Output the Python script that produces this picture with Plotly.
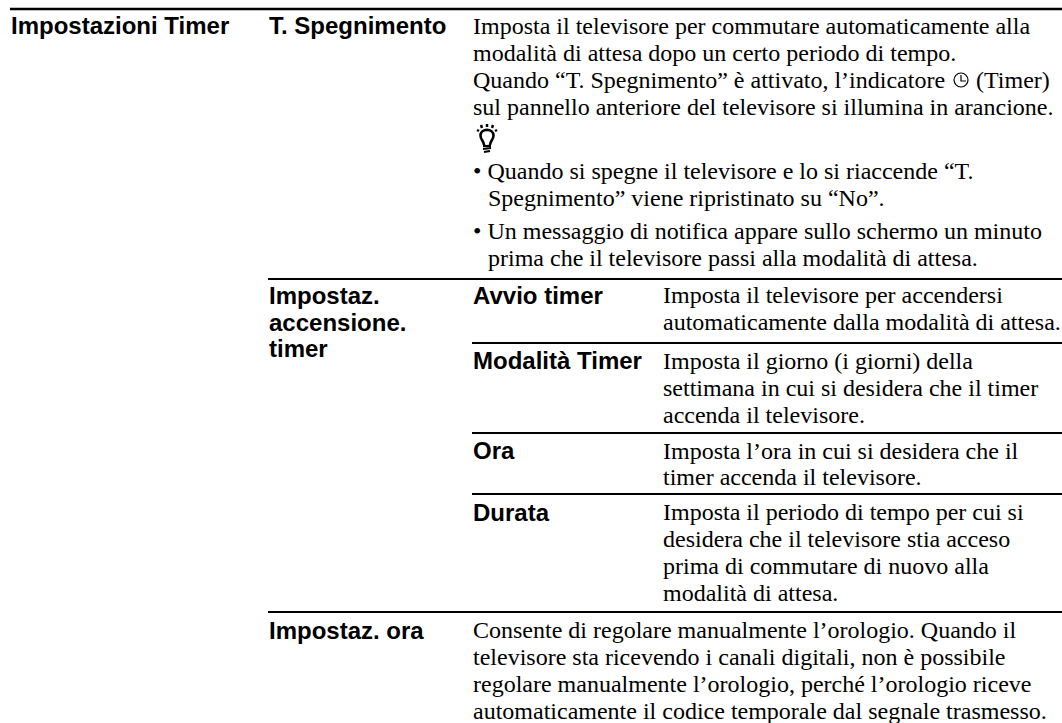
import plotly.graph_objects as go

W, H = 1062, 723
SANS = "Liberation Sans"
SERIF = "Liberation Serif"
SIZE = 24

bold_labels = [
    (10, 25, "Impostazioni Timer"),
    (268, 25, "T. Spegnimento"),
    (268, 295, "Impostaz."),
    (268, 322, "accensione."),
    (268, 348, "timer"),
    (472, 295, "Avvio timer"),
    (472, 360, "Modalità Timer"),
    (472, 450, "Ora"),
    (472, 512, "Durata"),
    (268, 630, "Impostaz. ora"),
]
body_lines = [
    (472, 26, "Imposta il televisore per commutare automaticamente alla"),
    (472, 53, "modalità di attesa dopo un certo periodo di tempo."),
    (472, 80, "Quando “T. Spegnimento” è attivato, l’indicatore"),
    (975, 80, "(Timer)"),
    (472, 107, "sul pannello anteriore del televisore si illumina in arancione."),
    (472, 171, "• Quando si spegne il televisore e lo si riaccende “T."),
    (487, 198, "Spegnimento” viene ripristinato su “No”."),
    (472, 231, "• Un messaggio di notifica appare sullo schermo un minuto"),
    (487, 258, "prima che il televisore passi alla modalità di attesa."),
    (662, 295, "Imposta il televisore per accendersi"),
    (662, 322, "automaticamente dalla modalità di attesa."),
    (662, 361, "Imposta il giorno (i giorni) della"),
    (662, 388, "settimana in cui si desidera che il timer"),
    (662, 415, "accenda il televisore."),
    (662, 451, "Imposta l’ora in cui si desidera che il"),
    (662, 477, "timer accenda il televisore."),
    (662, 512, "Imposta il periodo di tempo per cui si"),
    (662, 539, "desidera che il televisore stia acceso"),
    (662, 566, "prima di commutare di nuovo alla"),
    (662, 593, "modalità di attesa."),
    (472, 630, "Consente di regolare manualmente l’orologio. Quando il"),
    (472, 657, "televisore sta ricevendo i canali digitali, non è possibile"),
    (472, 684, "regolare manualmente l’orologio, perché l’orologio riceve"),
    (472, 711, "automaticamente il codice temporale dal segnale trasmesso."),
]
rules_x0 = [10, 268, 472, 472, 472, 268]
rules_y = [9, 279, 343, 433, 494, 612]

fig = go.Figure()
for x0, y in zip(rules_x0, rules_y):
    fig.add_trace(go.Scatter(x=[x0, W], y=[y, y], mode="lines",
                             line=dict(color="black", width=2.5 if y == 9 else 2), hoverinfo="skip"))

for x, y, t in bold_labels:
    fig.add_annotation(x=x, y=y, text=f"<b>{t}</b>", showarrow=False, xanchor="left", yanchor="middle",
                       xshift=-1, font=dict(family=SANS, size=SIZE, color="black"))
for x, y, t in body_lines:
    fig.add_annotation(x=x, y=y, text=t, showarrow=False, xanchor="left", yanchor="middle",
                       xshift=-1, font=dict(family=SERIF, size=SIZE, color="black"))

# timer icon
fig.add_shape(type="circle", x0=954, x1=968, y0=73, y1=87, line=dict(color="black", width=1.2))
fig.add_shape(type="path", path="M 961 75 L 961 81 L 966 81", line=dict(color="black", width=1.2))

# light-bulb icon
fig.add_shape(type="path", path="M 484 145 C 484 141 480.5 140 480.5 135.5 C 480.5 128 493.5 128 493.5 135.5 C 493.5 140 490 141 490 145",
              line=dict(color="black", width=2.6), fillcolor="white")
for seg, w in [("M 487 124 L 487 127", 2.5), ("M 481 125 L 482 128", 2.5), ("M 493 125 L 492 128", 2.5),
               ("M 477 130 L 479 131", 2.5), ("M 497 130 L 495 131", 2.5),
               ("M 483 146 L 491 146", 2.2), ("M 483 149 L 491 148", 2.2), ("M 484 152 L 490 151", 2.2)]:
    fig.add_shape(type="path", path=seg, line=dict(color="black", width=w))

fig.update_layout(
    width=W, height=H, autosize=False, showlegend=False,
    margin=dict(l=0, r=0, t=0, b=0), paper_bgcolor="white", plot_bgcolor="white",
    xaxis=dict(range=[0, W], visible=False, fixedrange=True),
    yaxis=dict(range=[H, 0], visible=False, fixedrange=True),
)
fig.write_html("out.html", config=dict(displayModeBar=False),
               post_script="document.body.style.margin='0';document.documentElement.style.overflow='hidden';")
